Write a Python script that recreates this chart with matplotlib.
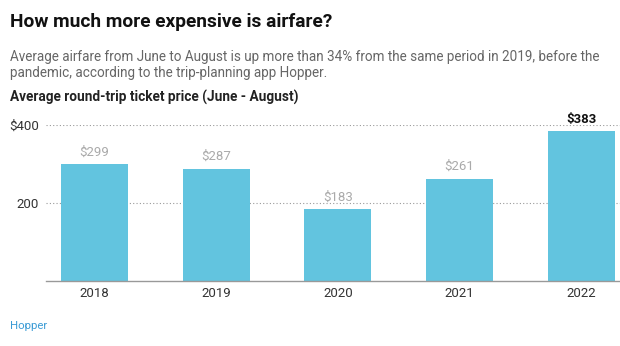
import matplotlib
matplotlib.use("Agg")
import matplotlib.pyplot as plt

years = ["2018", "2019", "2020", "2021", "2022"]
prices = [299, 287, 183, 261, 383]
value_labels = ["$299", "$287", "$183", "$261", "$383"]
ytick_vals = [200, 400]
ytick_labels = ["200", "$400"]

plt.rcParams['font.family'] = ['Roboto', 'DejaVu Sans']

fig = plt.figure(figsize=(6.2, 3.46), dpi=100)
ax = fig.add_axes([46/620, 1-280.5/346, 1-46/620, (280.5-124.7)/346])

x = list(range(len(years)))
bars = ax.bar(x, prices, width=0.55, color="#62c4df", zorder=2)
ax.set_xlim(-0.40, 4.32)
ax.set_ylim(0, 400)

for i, (xi, v, lab) in enumerate(zip(x, prices, value_labels)):
    last = i == len(prices) - 1
    ax.annotate(lab, (xi, v), xytext=(0, 4), textcoords="offset points",
                ha="center", va="bottom", fontsize=9.5,
                color="#111111" if last else "#aaaaaa",
                fontweight="bold" if last else "normal", clip_on=False)

ax.set_xticks(x)
ax.set_xticklabels(years, fontsize=9.5, color="#333333")
ax.set_yticks(ytick_vals)
ax.set_yticklabels(ytick_labels, fontsize=9.5, color="#333333")
ax.tick_params(axis="both", length=0)
ax.tick_params(axis="x", pad=5)
ax.tick_params(axis="y", pad=5)
ax.grid(axis="y", linestyle=(0, (1, 2)), color="#999999", linewidth=0.8, zorder=0)
for s in ["top", "right", "left"]:
    ax.spines[s].set_visible(False)
ax.spines["bottom"].set_color("#999999")
ax.spines["bottom"].set_linewidth(1.0)

fig.text(10/620, 1-22/346, "How much more expensive is airfare?", fontsize=13.8,
         fontweight="bold", color="#111111", va="center", ha="left")
fig.text(10/620, 1-57.5/346, "Average airfare from June to August is up more than 34% from the same period in 2019, before the",
         fontsize=9.75, color="#666666", va="center", ha="left")
fig.text(10/620, 1-73.5/346, "pandemic, according to the trip-planning app Hopper.",
         fontsize=9.75, color="#666666", va="center", ha="left")
fig.text(10/620, 1-97/346, "Average round-trip ticket price (June - August)", fontsize=9.8,
         fontweight="bold", color="#222222", va="center", ha="left")
fig.text(10/620, 1-326/346, "Hopper", fontsize=8.2, color="#3a9bd5", va="center", ha="left")

fig.savefig("out.png", dpi=100)
